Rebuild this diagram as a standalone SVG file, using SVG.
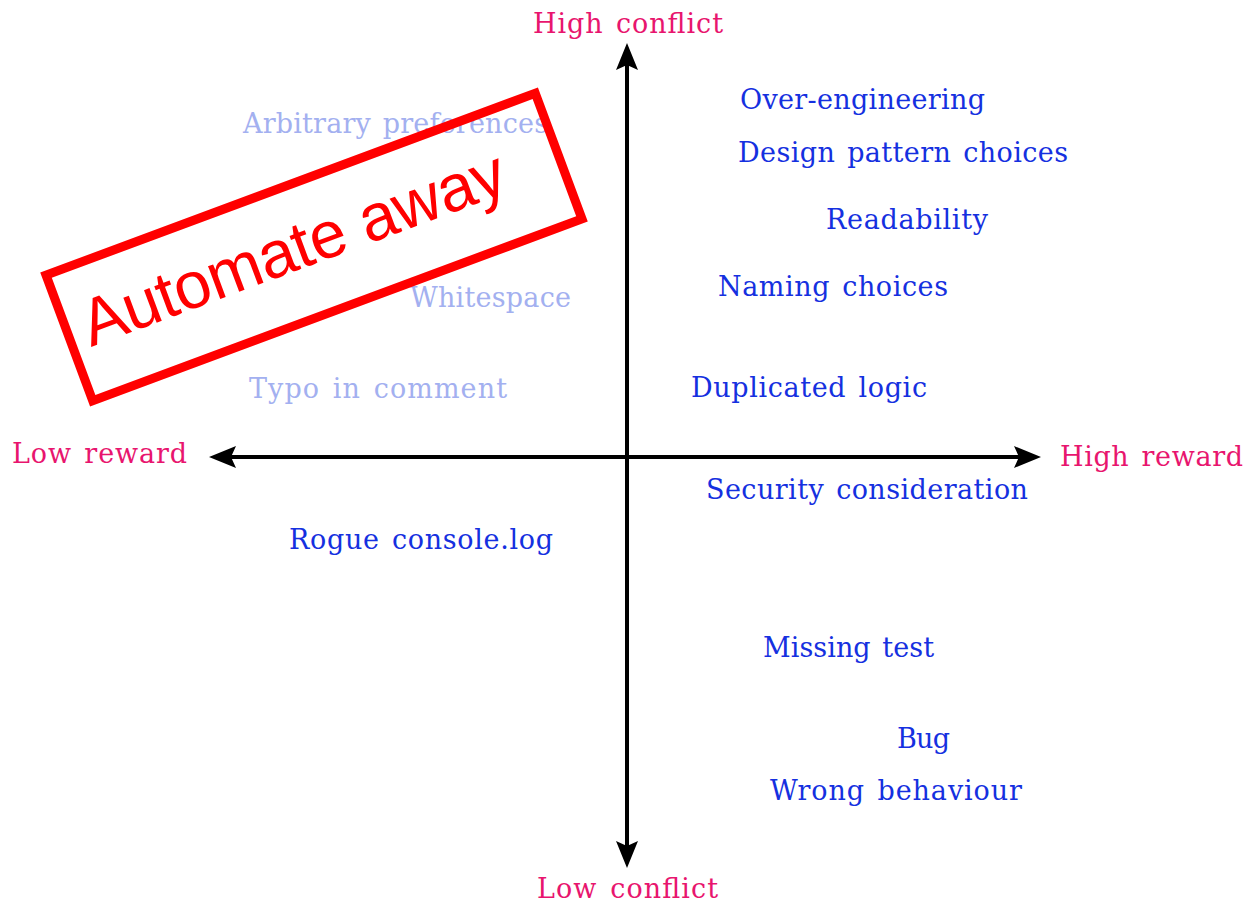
<svg xmlns="http://www.w3.org/2000/svg" width="1249" height="903" viewBox="0 0 1249 903">
<style>
text{font-family:"DejaVu Serif","Liberation Serif",serif;font-size:27px;word-spacing:3px}
.axis-label{fill:#e8156e}
.item{fill:#1530e0}
.faded{fill:#a3b0f0}
.stamp text{font-family:"Liberation Sans",Arial,sans-serif;font-size:66px;fill:#ff0000;word-spacing:0}
</style>
<defs>
<marker id="arr" markerWidth="28" markerHeight="24" refX="16" refY="11" orient="auto" markerUnits="userSpaceOnUse" viewBox="0 0 28 24">
<path d="M0,0 L27,11 L0,22 L5,11 Z" fill="#000"/>
</marker>
</defs>
<rect width="1249" height="903" fill="#fff"/>
<g id="axes" stroke="#000" stroke-width="4" fill="none">
<line x1="627" y1="457" x2="627" y2="54" marker-end="url(#arr)"/>
<line x1="627" y1="457" x2="627" y2="857" marker-end="url(#arr)"/>
<line x1="627" y1="457" x2="220" y2="457" marker-end="url(#arr)"/>
<line x1="627" y1="457" x2="1030" y2="457" marker-end="url(#arr)"/>
</g>
<g id="labels-axes">
<text class="axis-label" x="533" y="33" textLength="190">High conflict</text>
<text class="axis-label" x="537" y="898" textLength="181">Low conflict</text>
<text class="axis-label" x="12" y="463" textLength="175">Low reward</text>
<text class="axis-label" x="1060" y="466" textLength="183">High reward</text>
</g>
<g id="faded-items">
<text class="faded" x="243" y="133" textLength="305">Arbitrary preferences</text>
<text class="faded" x="410" y="307" textLength="161">Whitespace</text>
<text class="faded" x="249" y="398" textLength="258">Typo in comment</text>
</g>
<g id="items">
<text class="item" x="740" y="109" textLength="245">Over-engineering</text>
<text class="item" x="738" y="162" textLength="330">Design pattern choices</text>
<text class="item" x="826" y="229" textLength="162">Readability</text>
<text class="item" x="718" y="296" textLength="230">Naming choices</text>
<text class="item" x="691" y="397" textLength="236">Duplicated logic</text>
<text class="item" x="706" y="499" textLength="322">Security consideration</text>
<text class="item" x="289" y="549" textLength="264">Rogue console.log</text>
<text class="item" x="763" y="657" textLength="171">Missing test</text>
<text class="item" x="897" y="748" textLength="53">Bug</text>
<text class="item" x="770" y="800" textLength="252">Wrong behaviour</text>
</g>
<g id="stamp" class="stamp" transform="translate(314,247) rotate(-20.4)">
<rect x="-261" y="-67" width="522" height="134" fill="none" stroke="#ff0000" stroke-width="9"/>
<text x="-20" y="16" text-anchor="middle" textLength="448">Automate away</text>
</g>
</svg>
